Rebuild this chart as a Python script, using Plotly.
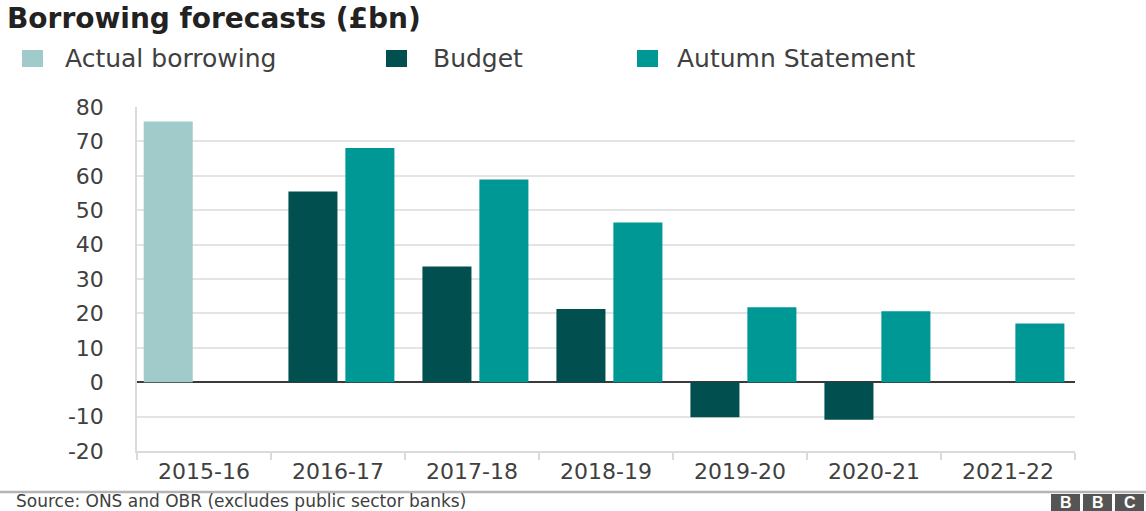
import plotly.graph_objects as go

categories = ["2015-16", "2016-17", "2017-18", "2018-19", "2019-20", "2020-21", "2021-22"]

actual_x = ["2015-16"]
actual_vals = [75.8]

budget_x = ["2016-17", "2017-18", "2018-19", "2019-20", "2020-21"]
budget_vals = [55.4, 33.6, 21.3, -10.2, -10.9]

autumn_x = ["2016-17", "2017-18", "2018-19", "2019-20", "2020-21", "2021-22"]
autumn_vals = [68.1, 58.9, 46.4, 21.8, 20.6, 17.1]

y_tickvals = [-20, -10, 0, 10, 20, 30, 40, 50, 60, 70, 80]
y_ticktext = ["-20", "-10", "0", "10", "20", "30", "40", "50", "60", "70", "80"]

series_names = ["Actual borrowing", "Budget", "Autumn Statement"]
colors = ["#a0cbca", "#024f4f", "#009895"]

FONT = "DejaVu Sans"
TXT = "#404040"
BW = 0.366

fig = go.Figure()
fig.add_trace(go.Bar(x=actual_x, y=actual_vals, name=series_names[0],
                     marker=dict(color=colors[0], line=dict(width=0)),
                     width=BW, offset=-0.45))
fig.add_trace(go.Bar(x=budget_x, y=budget_vals, name=series_names[1],
                     marker=dict(color=colors[1], line=dict(width=0)),
                     width=BW, offset=-0.37))
fig.add_trace(go.Bar(x=autumn_x, y=autumn_vals, name=series_names[2],
                     marker=dict(color=colors[2], line=dict(width=0)),
                     width=BW, offset=0.055))

fig.update_layout(
    width=1146, height=511,
    margin=dict(l=137, r=71, t=107, b=60),
    paper_bgcolor="white", plot_bgcolor="white",
    barmode="overlay",
    showlegend=False,
    font=dict(family=FONT, color=TXT),
    xaxis=dict(type="category", categoryorder="array", categoryarray=categories,
               range=[-0.5, 6.5],
               showgrid=False, showline=True, linecolor="#dadada", linewidth=1.5,
               ticks="outside", tickson="boundaries", ticklen=7, tickcolor="#dadada",
               tickwidth=1.5,
               tickfont=dict(family=FONT, size=22, color=TXT)),
    yaxis=dict(range=[-20, 80], tickmode="array", tickvals=y_tickvals, ticktext=y_ticktext,
               showgrid=True, gridcolor="#e4e4e4", gridwidth=1.5,
               zeroline=True, zerolinecolor="#3a3a3a", zerolinewidth=2,
               showline=True, linecolor="#dadada", linewidth=1.5,
               ticks="", ticklabelstandoff=27,
               tickfont=dict(family=FONT, size=22, color=TXT)),
)

pl, pt, pw, ph = 137, 107, 1146 - 137 - 71, 511 - 107 - 60

def px_x(x):
    return (x - pl) / pw

def px_y(y):
    return 1 - (y - pt) / ph

# Title
fig.add_annotation(text="<b>Borrowing forecasts (£bn)</b>", xref="paper", yref="paper",
                   x=px_x(5), y=px_y(18), xanchor="left", yanchor="middle",
                   showarrow=False, font=dict(family=FONT, size=28, color="#222222"))

# Legend (manual)
leg = [(22, 63), (386, 431), (637, 675)]
for (sx, tx), name, col in zip(leg, series_names, colors):
    fig.add_shape(type="rect", xref="paper", yref="paper",
                  x0=px_x(sx), x1=px_x(sx + 21), y0=px_y(67), y1=px_y(50),
                  fillcolor=col, line=dict(width=0))
    fig.add_annotation(text=name, xref="paper", yref="paper", x=px_x(tx), y=px_y(58.5),
                       xanchor="left", yanchor="middle", showarrow=False,
                       font=dict(family=FONT, size=25, color=TXT))

# Footer line
fig.add_shape(type="line", xref="paper", yref="paper", x0=px_x(0), x1=px_x(1146),
              y0=px_y(492), y1=px_y(492), line=dict(color="#b5b5b5", width=2.5))
fig.add_annotation(text="Source: ONS and OBR (excludes public sector banks)", xref="paper",
                   yref="paper", x=px_x(15), y=px_y(500.5), xanchor="left", yanchor="middle",
                   showarrow=False, borderpad=0,
                   font=dict(family=FONT, size=17, color=TXT))

# BBC blocks
for i, letter in enumerate(["B", "B", "C"]):
    x0 = 1051 + i * 32
    fig.add_shape(type="rect", xref="paper", yref="paper",
                  x0=px_x(x0), x1=px_x(x0 + 29), y0=px_y(511), y1=px_y(494),
                  fillcolor="#555555", line=dict(width=0))
    fig.add_annotation(text="<b>%s</b>" % letter, xref="paper", yref="paper",
                       x=px_x(x0 + 14.5), y=px_y(502.5), xanchor="center", yanchor="middle",
                       showarrow=False, borderpad=0,
                       font=dict(family="Liberation Sans", size=16, color="white"))

fig.write_html("out.html", config={"displayModeBar": False},
               post_script="document.body.style.margin='0';document.body.style.overflow='hidden';")
